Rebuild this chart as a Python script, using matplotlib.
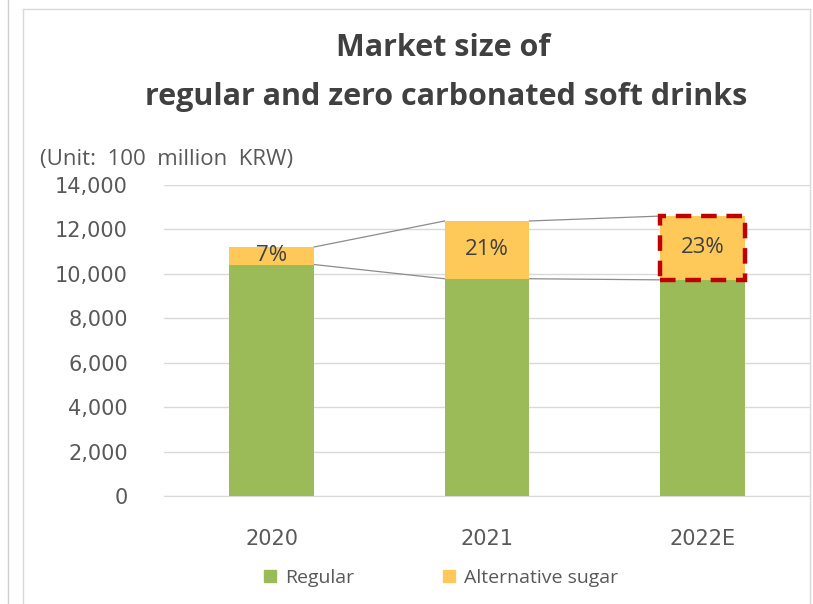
import matplotlib
matplotlib.use("Agg")
import matplotlib.pyplot as plt
from matplotlib.patches import Rectangle, Patch
from matplotlib.lines import Line2D
from matplotlib.ticker import FuncFormatter

# ---- data (unit: 100 million KRW) ----
years = ["2020", "2021", "2022E"]
regular = [10420, 9780, 9730]
alternative = [790, 2600, 2870]
share_labels = ["7%", "21%", "23%"]
y_ticks = [0, 2000, 4000, 6000, 8000, 10000, 12000, 14000]

GREEN = "#9BBB59"
YELLOW = "#FFC95A"
GRID = "#D9D9D9"
TXT = "#595959"
DARK = "#404040"
FONT = ["Open Sans", "DejaVu Sans"]
TICK_FONT = ["DejaVu Sans"]

plt.rcParams["font.family"] = FONT

W, H = 813, 604
fig = plt.figure(figsize=(W / 100, H / 100), dpi=100)
fig.patch.set_facecolor("white")

# chart frame
fig.add_artist(Line2D([8 / W, 8 / W], [0, 1], color="#D0D0D0", lw=1.0))
fig.add_artist(Line2D([23 / W, 23 / W], [0, 1 - 9 / H], color="#D9D9D9", lw=1.0))
fig.add_artist(Line2D([23 / W, 810 / W], [1 - 9 / H, 1 - 9 / H], color="#D9D9D9", lw=1.0))
fig.add_artist(Line2D([810 / W, 810 / W], [0, 1 - 9 / H], color="#D9D9D9", lw=1.0))

left, right, top, bottom = 164, 810, 185, 496
ax = fig.add_axes([left / W, 1 - bottom / H, (right - left) / W, (bottom - top) / H])
ax.set_facecolor("white")

x = list(range(len(years)))
bw = 0.394
ax.bar(x, regular, width=bw, color=GREEN, zorder=3, label="Regular")
ax.bar(x, alternative, width=bw, bottom=regular, color=YELLOW, zorder=3,
       label="Alternative sugar")

totals = [r + a for r, a in zip(regular, alternative)]

# series lines between neighbouring bars
for i in range(len(x) - 1):
    for lvl in (regular, totals):
        ax.plot([x[i] + bw / 2, x[i + 1] - bw / 2], [lvl[i], lvl[i + 1]],
                color="#8C8C8C", lw=0.9, zorder=2)

# share labels in the alternative segment
for i, lab in enumerate(share_labels):
    ax.text(x[i], regular[i] + alternative[i] / 2, lab, ha="center", va="center",
            fontsize=16, color=DARK, zorder=5)

# highlight box around the 2022E alternative segment
ax.add_patch(Rectangle((x[2] - bw / 2, regular[2]), bw, alternative[2],
                       fill=False, edgecolor="#C00000", lw=3.2,
                       linestyle=(0, (3.5, 2.2)), zorder=6, clip_on=False))

ax.set_xlim(-0.5, 2.5)
ax.set_ylim(0, 14000)
ax.set_yticks(y_ticks)
ax.yaxis.set_major_formatter(FuncFormatter(lambda v, p: f"{int(v):,}"))
ax.set_xticks(x)
ax.set_xticklabels(years)
ax.grid(axis="y", color=GRID, lw=1.0, zorder=0)
for s in ("left", "right", "top"):
    ax.spines[s].set_visible(False)
ax.spines["bottom"].set_color(GRID)
ax.tick_params(axis="both", length=0, colors=TXT, labelsize=15)
ax.tick_params(axis="y", pad=26)
ax.tick_params(axis="x", pad=24)
for lab in ax.get_xticklabels() + ax.get_yticklabels():
    lab.set_fontfamily(TICK_FONT)

# titles
fig.text(443 / W, 1 - 48 / H, "Market size of", ha="center", va="center",
         fontsize=22, fontweight="bold", color=DARK)
fig.text(446 / W, 1 - 97 / H, "regular and zero carbonated soft drinks",
         ha="center", va="center", fontsize=22, fontweight="bold", color=DARK)
fig.text(40 / W, 1 - 160 / H, "(Unit:  100  million  KRW)", ha="left", va="center",
         fontsize=16, color=TXT)

handles = [Patch(color=GREEN, label="Regular"),
           Patch(color=YELLOW, label="Alternative sugar")]
fig.legend(handles=handles, loc="center", bbox_to_anchor=(441 / W, 1 - 578 / H),
           ncol=2, frameon=False, fontsize=14, labelcolor=TXT,
           handlelength=0.6, handleheight=0.6, handletextpad=0.45,
           columnspacing=4.6)

fig.savefig("out.png", dpi=100, facecolor="white")
